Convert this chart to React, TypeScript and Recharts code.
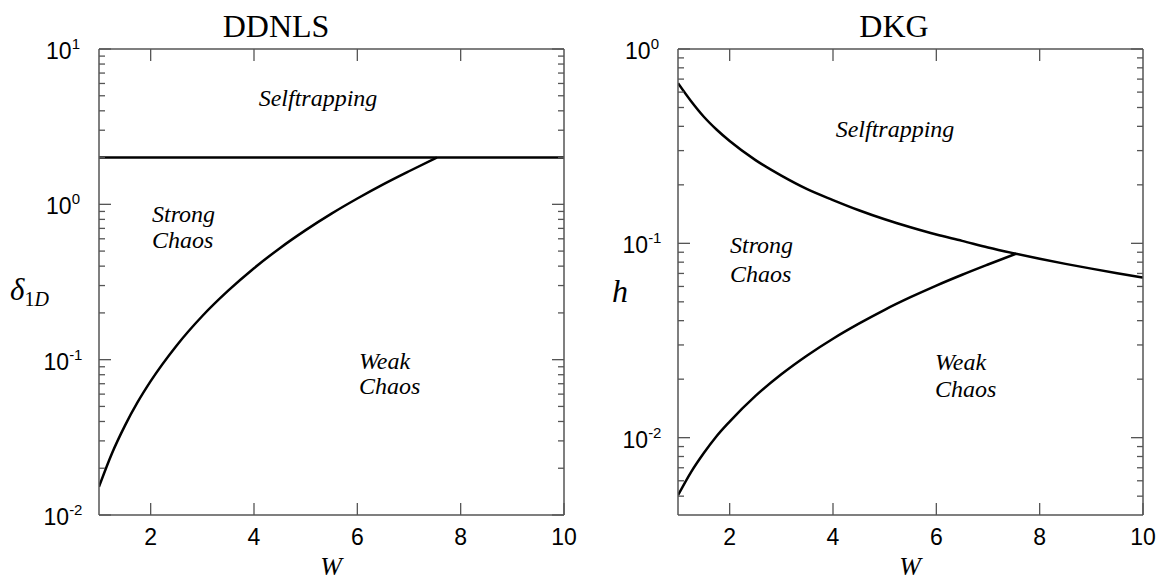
import React from 'react';
import { LineChart, Line, XAxis, YAxis } from 'recharts';

// DDNLS panel (left)
const wWeakD = [1, 1.25, 1.5, 1.75, 2, 2.5, 3, 3.5, 4, 4.5, 5, 5.5, 6, 6.5, 7, 7.54];
const deltaWeak = [0.0152, 0.0249, 0.0375, 0.0534, 0.0727, 0.123, 0.191, 0.278, 0.388, 0.522, 0.682, 0.871, 1.09, 1.344, 1.633, 2.0];
const wSelfD = [1, 10];
const deltaSelf = [2, 2];

// DKG panel (right)
const wSelfK = [1, 1.25, 1.5, 1.75, 2, 2.5, 3, 3.5, 4, 4.5, 5, 5.5, 6, 6.5, 7, 7.54, 8, 8.5, 9, 9.5, 10];
const hSelf = [0.667, 0.54, 0.448, 0.384, 0.336, 0.268, 0.223, 0.19, 0.167, 0.148, 0.133, 0.121, 0.111, 0.103, 0.0952, 0.0884, 0.0833, 0.0784, 0.0741, 0.0702, 0.0667];
const wWeakK = [1, 1.25, 1.5, 1.75, 2, 2.5, 3, 3.5, 4, 4.5, 5, 5.5, 6, 6.5, 7, 7.54];
const hWeak = [0.00505, 0.00663, 0.00833, 0.0102, 0.0121, 0.0164, 0.0212, 0.0265, 0.0323, 0.0386, 0.0455, 0.0528, 0.0606, 0.0689, 0.0778, 0.0884];

// ticks
const xTicks = [2, 4, 6, 8, 10];
const yTicksD = [
  0.01, 0.02, 0.03, 0.04, 0.05, 0.06, 0.07, 0.08, 0.09,
  0.1, 0.2, 0.3, 0.4, 0.5, 0.6, 0.7, 0.8, 0.9,
  1, 2, 3, 4, 5, 6, 7, 8, 9, 10,
];
const yTicksK = [
  0.005, 0.006, 0.007, 0.008, 0.009,
  0.01, 0.02, 0.03, 0.04, 0.05, 0.06, 0.07, 0.08, 0.09,
  0.1, 0.2, 0.3, 0.4, 0.5, 0.6, 0.7, 0.8, 0.9, 1,
];

const FRAME = '#555';
const SANS = '"Liberation Sans", Arial, sans-serif';
const SERIF = '"Liberation Serif", "Times New Roman", serif';

const toRows = (xs: number[], ys: number[]) => xs.map((w, i) => ({ w, v: ys[i] }));

const isMajor = (v: number) => {
  const l = Math.log10(v);
  return Math.abs(l - Math.round(l)) < 1e-6;
};

const LeftYTick = (props: any) => {
  const { x, y, payload } = props;
  const v = payload.value;
  const major = isMajor(v);
  return (
    <g>
      <line x1={x} x2={x + (major ? 12 : 6)} y1={y} y2={y} stroke={FRAME} strokeWidth={1.3} />
      {major && (
        <text x={x - 36} y={y + 10} textAnchor="middle" fontFamily={SANS} fontSize={23} fill="#000">
          10
          <tspan fontSize={15} dy={-10}>{Math.round(Math.log10(v))}</tspan>
        </text>
      )}
    </g>
  );
};

const RightYTick = (props: any) => {
  const { x, y, payload } = props;
  const major = isMajor(payload.value);
  return <line x1={x} x2={x - (major ? 12 : 6)} y1={y} y2={y} stroke={FRAME} strokeWidth={1.3} />;
};

const BottomXTick = (props: any) => {
  const { x, y, payload } = props;
  return (
    <g>
      <line x1={x} x2={x} y1={y} y2={y - 12} stroke={FRAME} strokeWidth={1.3} />
      <text x={x} y={y + 30} textAnchor="middle" fontFamily={SANS} fontSize={23} fill="#000">
        {payload.value}
      </text>
    </g>
  );
};

const TopXTick = (props: any) => {
  const { x, y } = props;
  return <line x1={x} x2={x} y1={y} y2={y + 12} stroke={FRAME} strokeWidth={1.3} />;
};

interface PanelProps {
  left: number;
  yDomain: [number, number];
  yTicks: number[];
  series: { xs: number[]; ys: number[]; curve: 'monotone' | 'linear' }[];
}

const Panel = ({ left, yDomain, yTicks, series }: PanelProps) => (
  <div style={{ position: 'absolute', left, top: 0 }}>
    <LineChart width={582} height={582} margin={{ top: 39, right: 8, bottom: 27, left: 39 }}>
      <XAxis
        xAxisId="b"
        dataKey="w"
        type="number"
        domain={[1, 10]}
        allowDataOverflow
        ticks={xTicks}
        interval={0}
        height={40}
        tickSize={0}
        tickMargin={0}
        tick={(p: any) => <BottomXTick {...p} />}
        axisLine={{ stroke: FRAME, strokeWidth: 1.5 }}
        tickLine={false}
      />
      <XAxis
        xAxisId="t"
        orientation="top"
        dataKey="w"
        type="number"
        domain={[1, 10]}
        allowDataOverflow
        ticks={xTicks.slice(0, 4)}
        interval={0}
        height={10}
        tickSize={0}
        tickMargin={0}
        tick={(p: any) => <TopXTick {...p} />}
        axisLine={{ stroke: FRAME, strokeWidth: 1.5 }}
        tickLine={false}
      />
      <YAxis
        yAxisId="l"
        type="number"
        scale="log"
        domain={yDomain}
        allowDataOverflow
        ticks={yTicks}
        interval={0}
        width={60}
        tickSize={0}
        tickMargin={0}
        tick={(p: any) => <LeftYTick {...p} />}
        axisLine={{ stroke: FRAME, strokeWidth: 1.5 }}
        tickLine={false}
      />
      <YAxis
        yAxisId="r"
        orientation="right"
        type="number"
        scale="log"
        domain={yDomain}
        allowDataOverflow
        ticks={yTicks}
        interval={0}
        width={10}
        tickSize={0}
        tickMargin={0}
        tick={(p: any) => <RightYTick {...p} />}
        axisLine={{ stroke: FRAME, strokeWidth: 1.5 }}
        tickLine={false}
      />
      {series.map((s, i) => (
        <Line
          key={i}
          xAxisId="b"
          yAxisId="l"
          data={toRows(s.xs, s.ys)}
          dataKey="v"
          type={s.curve}
          stroke="#000"
          strokeWidth={2.5}
          dot={false}
          isAnimationActive={false}
        />
      ))}
    </LineChart>
  </div>
);

const Note = ({ x, y, children, anchor = 'start' }: any) => (
  <text x={x} y={y} textAnchor={anchor} fontFamily={SERIF} fontStyle="italic" fontSize={24} fill="#000">
    {children}
  </text>
);

export default function App() {
  return (
    <div style={{ position: 'absolute', left: 0, top: 0, width: 1165, height: 582, background: '#fff' }}>
      <Panel
        left={0}
        yDomain={[0.01, 10]}
        yTicks={yTicksD}
        series={[
          { xs: wSelfD, ys: deltaSelf, curve: 'linear' },
          { xs: wWeakD, ys: deltaWeak, curve: 'monotone' },
        ]}
      />
      <Panel
        left={579}
        yDomain={[0.004, 1]}
        yTicks={yTicksK}
        series={[
          { xs: wSelfK, ys: hSelf, curve: 'monotone' },
          { xs: wWeakK, ys: hWeak, curve: 'monotone' },
        ]}
      />
      <svg
        width={1165}
        height={582}
        style={{ position: 'absolute', left: 0, top: 0, pointerEvents: 'none' }}
      >
        <text x={276} y={37} textAnchor="middle" fontFamily={SERIF} fontSize={32} fill="#000">DDNLS</text>
        <text x={894} y={37} textAnchor="middle" fontFamily={SERIF} fontSize={32} fill="#000">DKG</text>

        <Note x={318} y={106} anchor="middle">Selftrapping</Note>
        <Note x={152} y={222}>Strong</Note>
        <Note x={152} y={248}>Chaos</Note>
        <Note x={359} y={369}>Weak</Note>
        <Note x={359} y={394}>Chaos</Note>

        <Note x={895} y={137} anchor="middle">Selftrapping</Note>
        <Note x={730} y={253}>Strong</Note>
        <Note x={730} y={282}>Chaos</Note>
        <Note x={935} y={370}>Weak</Note>
        <Note x={935} y={397}>Chaos</Note>

        <text x={331} y={575} textAnchor="middle" fontFamily={SERIF} fontStyle="italic" fontSize={26} fill="#000">W</text>
        <text x={910} y={575} textAnchor="middle" fontFamily={SERIF} fontStyle="italic" fontSize={26} fill="#000">W</text>

        <text x={10} y={300} fontFamily={SERIF} fontStyle="italic" fontSize={31} fill="#000">
          δ
          <tspan fontStyle="normal" fontSize={20} dy={6}>1</tspan>
          <tspan fontSize={20}>D</tspan>
        </text>
        <text x={612} y={302} fontFamily={SERIF} fontStyle="italic" fontSize={32} fill="#000">h</text>
      </svg>
    </div>
  );
}
